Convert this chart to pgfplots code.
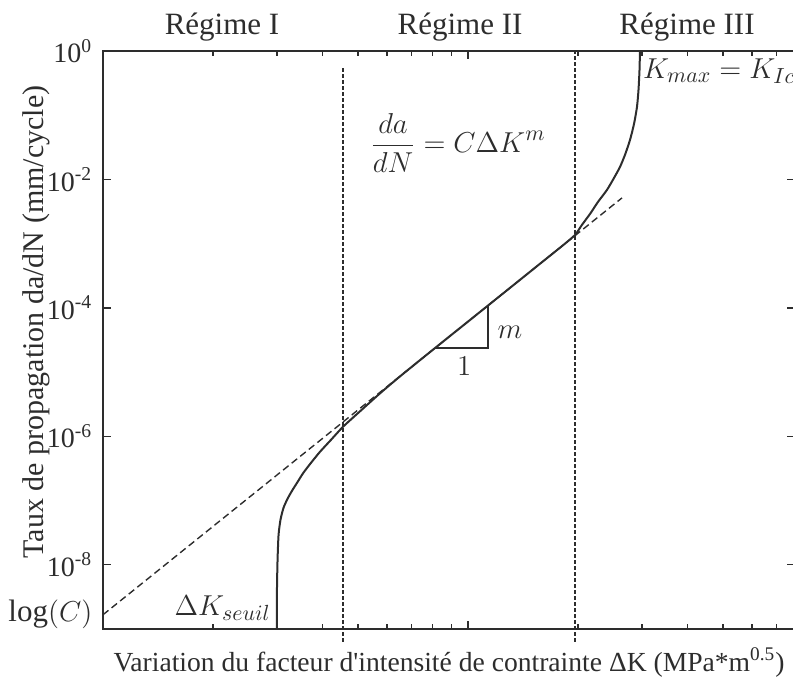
\documentclass[border=0pt]{standalone}
\usepackage{fontspec}
\setmainfont{Liberation Serif}[Ligatures=TeXOff]
\usepackage{pgfplots}
\pgfplotsset{compat=1.18}

\definecolor{ink}{RGB}{45,45,45}

\begin{document}
\fontsize{15.5}{18}\selectfont
\begin{tikzpicture}
\begin{axis}[
    scale only axis,
    width=346pt, height=289pt,
    xmode=log, ymode=log,
    xmin=1, xmax=78.7,
    ymin=1e-9, ymax=1,
    clip=false,
    axis line style={line width=1pt, ink},
    every tick/.style={ink, line width=0.7pt},
    major tick length=4pt, minor tick length=2.5pt,
    xtick={10}, xticklabels={},
    minor xtick={2,3,4,5,6,7,8,9,20,30,40,50,60,70},
    ytick={1e-8,1e-6,1e-4,1e-2,1},
    yticklabels={10\textsuperscript{-8},10\textsuperscript{-6},10\textsuperscript{-4},10\textsuperscript{-2},10\textsuperscript{0}},
    minor ytick={},
    extra y ticks={1.667e-9},
    extra y tick labels={$\log(C)$},
    extra y tick style={major tick length=0pt, yticklabel style={font=\fontsize{15.5}{18}\selectfont}},
    yticklabel style={text=ink, font=\fontsize{14}{17}\selectfont},
    xlabel={Variation du facteur d'intensité de contrainte ΔK (MPa*m\textsuperscript{0.5})},
    ylabel={Taux de propagation da/dN (mm/cycle)},
    xlabel style={at={(axis description cs:0.5,-0.0727)}, anchor=base, text=ink, font=\fontsize{13.8}{16}\selectfont},
    ylabel style={at={(axis description cs:-0.0867,0.531)}, anchor=base, text=ink, font=\fontsize{15}{18}\selectfont},
  ]

  % courbe de propagation
  \addplot[ink, line width=1pt, smooth, tension=0.4] table {
    x      y
    2.997  1e-9
    2.997  4.08e-9
    3.008  1.197e-8
    3.027  2.93e-8
    3.064  5.01e-8
    3.123  7.71e-8
    3.203  1.064e-7
    3.295  1.419e-7
    3.401  1.888e-7
    3.539  2.70e-7
    3.715  3.87e-7
    3.931  5.74e-7
    4.215  8.83e-7
    4.544  1.406e-6
    5.059  2.45e-6
    5.741  4.67e-6
    6.512  8.57e-6
    7.943  2.14e-5
    10     6.12e-5
    12.59  1.75e-4
    15.85  5.01e-4
    18.20  9.42e-4
    19.65  1.368e-3
    20.52  1.96e-3
    21.59  2.90e-3
    22.71  4.47e-3
    24.03  6.87e-3
    25.12  1.055e-2
    26.09  1.567e-2
    26.92  2.41e-2
    27.79  4.12e-2
    28.50  7.31e-2
    29.04  0.1343
    29.32  0.247
    29.51  0.506
    29.59  1
  };

  % droite de Paris
  \addplot[ink, line width=0.7pt, dash pattern=on 3.5pt off 2pt] table {
    x      y
    1      1.667e-9
    26.42  5.16e-3
  };

  % limites des regimes
  \addplot[ink, line width=0.6pt, dash pattern=on 2pt off 1pt] table {
    x      y
    4.544  6.33e-10
    4.544  0.564
  };
  \addplot[ink, line width=0.6pt, dash pattern=on 2pt off 1pt] table {
    x      y
    19.65  6.33e-10
    19.65  1
  };

  % triangle de pente
  \addplot[ink, line width=0.8pt] table {
    x      y
    8.12   2.37e-5
    11.34  2.37e-5
    11.34  1.09e-4
  };

  \node[anchor=base, text=ink] at (rel axis cs:0.172,1.0277) {Régime I};
  \node[anchor=base, text=ink] at (rel axis cs:0.516,1.0277) {Régime II};
  \node[anchor=base, text=ink] at (rel axis cs:0.844,1.0277) {Régime III};
  \node[text=ink] at (rel axis cs:0.513,0.841) {$\displaystyle\frac{da}{dN} = C\Delta K^m$};
  \node[anchor=north west, inner sep=1pt, text=ink] at (rel axis cs:0.777,0.991) {$K_{max} = K_{Ic}$};
  \node[anchor=south east, inner sep=1pt, text=ink] at (rel axis cs:0.2457,0.0104) {$\Delta K_{seuil}$};
  \node[text=ink] at (rel axis cs:0.588,0.514) {$m$};
  \node[text=ink] at (rel axis cs:0.522,0.455) {$1$};

  \coordinate (sw) at (rel axis cs:0,0);
  \coordinate (ne) at (rel axis cs:1,1);
\end{axis}
\pgfresetboundingbox
\path[use as bounding box] ([shift={(-51.5pt,-25.5pt)}]sw) rectangle ([shift={(-1pt,25.5pt)}]ne);
\end{tikzpicture}
\end{document}
